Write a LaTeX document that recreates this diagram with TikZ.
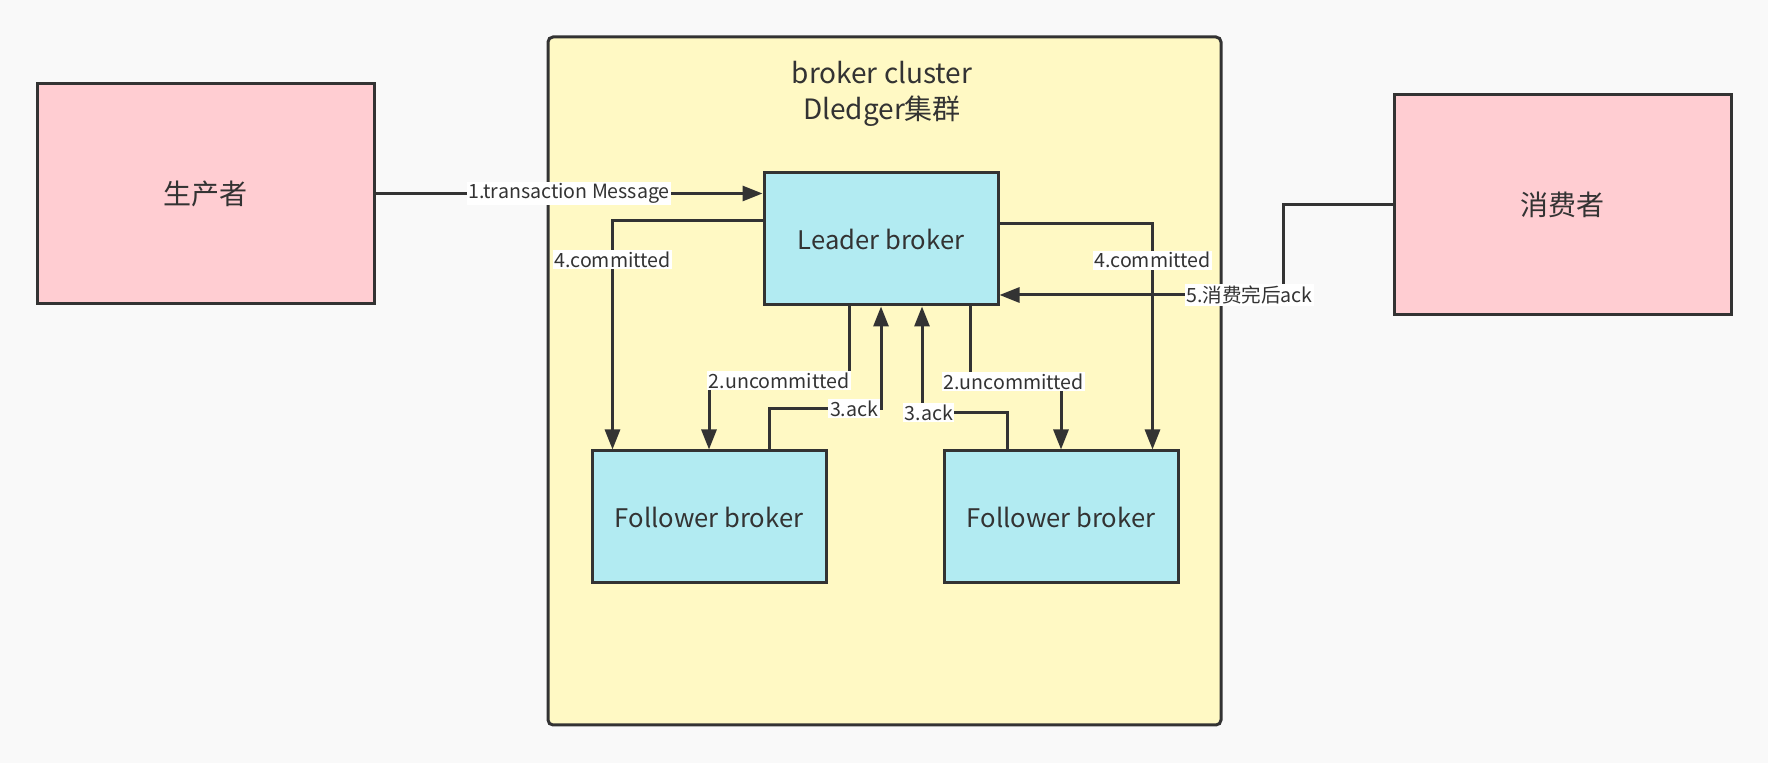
\documentclass[tikz,border=0pt]{standalone}
\usepackage{fontspec}
\setmainfont{Noto Sans CJK SC}
\usetikzlibrary{arrows.meta}
\definecolor{pinkbox}{HTML}{FFCDD2}
\definecolor{cyanbox}{HTML}{B2EBF2}
\definecolor{yellowbox}{HTML}{FFF9C4}
\definecolor{darkline}{HTML}{333333}
\definecolor{paper}{HTML}{F9F9F9}
\tikzset{
  client/.style={
    rectangle,
    minimum width=168.5pt,
    minimum height=110pt,
    draw=darkline,
    line width=1.5pt,
    fill=pinkbox,
    text=darkline,
    font=\fontsize{14}{16}\selectfont
    },
  broker/.style={
    rectangle,
    minimum width=117pt,
    minimum height=66pt,
    draw=darkline,
    line width=1.5pt,
    fill=cyanbox,
    text=darkline,
    font=\fontsize{12.8}{15}\selectfont
    },
  cluster/.style={
    rectangle,
    rounded corners=2.5pt,
    minimum width=336.5pt,
    minimum height=344pt,
    draw=darkline,
    line width=1.5pt,
    fill=yellowbox
    },
  arrow/.style={line width=1.5pt, draw=darkline, -{Triangle[length=10pt,width=7.5pt]}},
  lbl/.style={fill=white, inner sep=0.8pt, text=darkline, font=\fontsize{9.8}{11}\selectfont},
}

\begin{document}
\begin{tikzpicture}[
            x = 0.5pt, y = -0.5pt % one unit is one pixel of the sketch
        ]
    \fill[paper] (0,0) rectangle (1768,763);
    \useasboundingbox (0,0) rectangle (1768,763);

    % clients and the cluster
    \node[client] (prod) at (205.5,193.5) {生产者};
    \node[client] (cons) at (1562.5,205) {消费者};
    \node[cluster] (dl) at (884.5,381) {};
    \node[align=center, text=darkline, font=\fontsize{14}{18}\selectfont] (title) at (882,94) {broker cluster\\Dledger集群};

    % brokers
    \node[broker] (leader) at (881,239) {Leader broker};
    \node[broker] (fl) at (709,517) {Follower broker};
    \node[broker] (fr) at (1061,517) {Follower broker};

    % 1. send
    \draw[arrow] (prod.east) -- (prod.east -| leader.west)
        node[lbl, pos=0.5] {1.transaction Message};

    % 2. replicate
    \draw[arrow] ([xshift=-16pt]leader.south) -- ++(0,74) -| (fl.north)
        node[lbl, pos=0.25] {2.uncommitted};
    \draw[arrow] ([xshift=44.5pt]leader.south) -- ++(0,75) -| (fr.north)
        node[lbl, pos=0.24] {2.uncommitted};

    % 3. ack
    \draw[arrow] ([xshift=30pt]fl.north) -- ++(0,-41) -| (leader.south)
        node[lbl, pos=0.38] {3.ack};
    \draw[arrow] ([xshift=-27pt]fr.north) -- ++(0,-37) -| ([xshift=20.5pt]leader.south)
        node[lbl, pos=0.46] {3.ack};

    % 4. commit
    \draw[arrow] ([yshift=9pt]leader.west) -| ([xshift=11pt]fl.north west)
        node[lbl, pos=0.585] {4.committed};
    \draw[arrow] ([yshift=7.5pt]leader.east) -| ([xshift=-13.5pt]fr.north east)
        node[lbl, pos=0.58] {4.committed};

    % 5. consumer ack
    \draw[arrow] (cons.west) -- ++(-109,0) |- ([yshift=-28pt]leader.east)
        node[lbl, pos=0.56] {5.消费完后ack};
\end{tikzpicture}
\end{document}
